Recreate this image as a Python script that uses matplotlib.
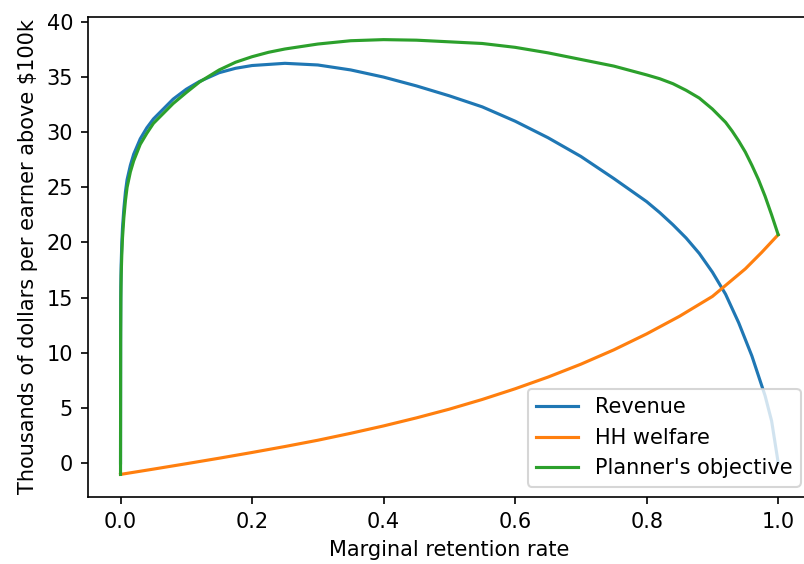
import numpy as np
import matplotlib
matplotlib.use('Agg')
import matplotlib.pyplot as plt

# values (thousands of dollars)
rev_x = [0.0, 0.0002, 0.0005, 0.001, 0.002, 0.003, 0.005, 0.0075, 0.01, 0.015, 0.02, 0.03,
         0.04, 0.05, 0.065, 0.08, 0.1, 0.12, 0.15, 0.175, 0.2, 0.25, 0.3, 0.35, 0.4,
         0.45, 0.5, 0.55, 0.6, 0.65, 0.7, 0.75, 0.8, 0.82, 0.84, 0.86, 0.88, 0.9,
         0.92, 0.94, 0.96, 0.97, 0.98, 0.99, 1.0]
revenue = [0.0, 12.0, 16.0, 18.0, 20.0, 21.3, 23.0, 24.6, 25.7, 27.0, 28.0, 29.4,
           30.4, 31.2, 32.1, 33.0, 33.9, 34.6, 35.4, 35.8, 36.05, 36.25, 36.1, 35.65, 35.0,
           34.2, 33.3, 32.3, 31.0, 29.5, 27.8, 25.8, 23.7, 22.7, 21.6, 20.4, 19.0, 17.3,
           15.3, 12.7, 9.7, 7.9, 6.1, 3.8, 0.0]

hh_x = [0.0, 0.05, 0.1, 0.15, 0.2, 0.25, 0.3, 0.35, 0.4, 0.45, 0.5, 0.55, 0.6,
        0.65, 0.7, 0.75, 0.8, 0.85, 0.9, 0.95, 0.975, 1.0]
hh_welfare = [-1.05, -0.57, -0.08, 0.42, 0.94, 1.48, 2.05, 2.68, 3.35, 4.08, 4.87, 5.75, 6.72,
              7.78, 8.95, 10.25, 11.7, 13.3, 15.1, 17.6, 19.1, 20.7]

plan_x = [0.0, 0.0002, 0.0005, 0.001, 0.002, 0.003, 0.005, 0.0075, 0.01, 0.015, 0.02, 0.03,
          0.04, 0.05, 0.065, 0.08, 0.1, 0.12, 0.15, 0.175, 0.2, 0.225, 0.25, 0.3, 0.35, 0.4,
          0.45, 0.5, 0.55, 0.6, 0.65, 0.7, 0.75, 0.8, 0.82, 0.84, 0.86, 0.88, 0.9,
          0.92, 0.93, 0.94, 0.95, 0.96, 0.97, 0.98, 0.99, 1.0]
planner = [-1.05, 11.0, 15.0, 17.0, 19.0, 20.4, 22.2, 23.8, 25.0, 26.4, 27.4, 28.9,
           29.9, 30.8, 31.7, 32.6, 33.6, 34.55, 35.65, 36.35, 36.85, 37.25, 37.55, 38.0, 38.3, 38.4,
           38.35, 38.2, 38.05, 37.7, 37.2, 36.6, 36.0, 35.2, 34.85, 34.4, 33.8, 33.1, 32.1,
           30.9, 30.1, 29.2, 28.2, 27.0, 25.7, 24.2, 22.5, 20.7]

fig = plt.figure(figsize=(804/150, 564/150), dpi=150)
ax = fig.add_axes([0.109, 0.1188, 0.8998, 0.851])

ax.plot(rev_x, revenue, label='Revenue')
ax.plot(hh_x, hh_welfare, label='HH welfare')
ax.plot(plan_x, planner, label="Planner's objective")

ax.set_xlabel('Marginal retention rate')
ax.set_ylabel('Thousands of dollars per earner above $100k')
ax.set_xlim(-0.05, 1.05)
ax.set_ylim(-3.1, 40.45)
ax.legend(loc='lower right')

fig.savefig('out.png', dpi=150)
